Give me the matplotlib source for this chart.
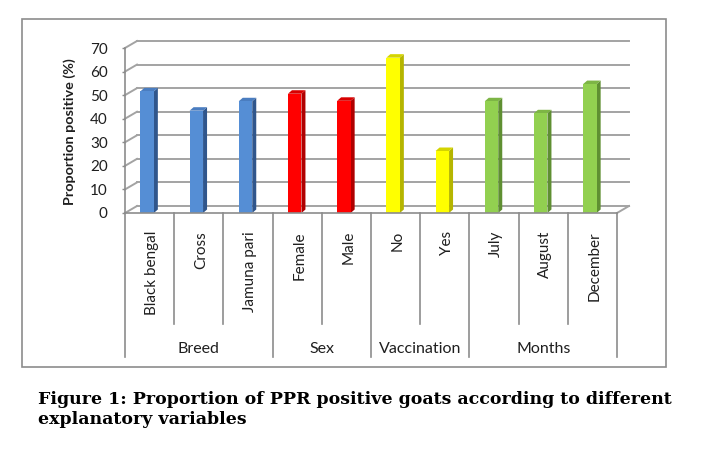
import numpy as np
import matplotlib
matplotlib.use("Agg")
import matplotlib.pyplot as plt
from matplotlib.patches import Rectangle

# ---- data ----
categories = ["Black bengal", "Cross", "Jamuna pari", "Female", "Male",
              "No", "Yes", "July", "August", "December"]
values = [51.6, 43.4, 47.4, 50.6, 47.6, 65.9, 26.3, 47.4, 42.3, 54.7]
groups = ["Breed", "Sex", "Vaccination", "Months"]
group_sizes = [3, 2, 2, 3]
yticks = [0, 10, 20, 30, 40, 50, 60, 70]

# front / side / top shades per group
front_col = {"Breed": "#558ED5", "Sex": "#FF0000", "Vaccination": "#FFFF00", "Months": "#92D050"}
side_col = {"Breed": "#30568C", "Sex": "#B00000", "Vaccination": "#B5B500", "Months": "#5F8F32"}
top_col = {"Breed": "#4A7DC0", "Sex": "#D80000", "Vaccination": "#D4D400", "Months": "#7DB545"}

plt.rcParams["font.family"] = ["Lato", "DejaVu Sans"]

W, H = 709, 449
fig = plt.figure(figsize=(W / 100, H / 100), dpi=100)

# frame around the chart
fig.patches.append(Rectangle((22 / W, 1 - 367 / H), 644 / W, 348 / H,
                             transform=fig.transFigure, fill=False,
                             edgecolor="#8C8C8C", linewidth=1.2))

# axes placed so that the front floor runs x=125..617 px, y=213 (0) .. 48 (70)
x0, x1, y0, y1 = 125, 617, 213, 48
ax = fig.add_axes([x0 / W, 1 - y0 / H, (x1 - x0) / W, (y0 - y1) / H])
n = len(categories)
ax.set_xlim(-0.5, n - 0.5)
ax.set_ylim(0, 70)
ax.patch.set_alpha(0)

px_x = (x1 - x0) / n          # pixels per category
px_y = (y0 - y1) / 70.0        # pixels per value unit

grid_c = "#A3A3A3"
# depth of the back wall
wdx, wdy = 12 / px_x, 7 / px_y
for t in yticks:
    ax.plot([-0.5 + wdx, n - 0.5 + wdx], [t + wdy, t + wdy], color=grid_c,
            lw=1.4, clip_on=False, zorder=1)
    ax.plot([-0.5, -0.5 + wdx], [t, t + wdy], color=grid_c, lw=1.4,
            clip_on=False, zorder=1)
ax.plot([n - 0.5, n - 0.5 + wdx], [0, wdy], color=grid_c, lw=1.4,
        clip_on=False, zorder=1)

# bars with a little depth
bw = 13.5 / px_x
bshift = -2.5 / px_x
bdx, bdy = 4 / px_x, 3.5 / px_y
bar_groups = [g for g, s in zip(groups, group_sizes) for _ in range(s)]
xs = np.arange(n) + bshift
for xi, v, g in zip(xs, values, bar_groups):
    l, r = xi - bw / 2, xi + bw / 2
    ax.fill([r, r + bdx, r + bdx, r], [0, bdy, v + bdy, v],
            color=side_col[g], lw=0, zorder=3)
    ax.fill([l, r, r + bdx, l + bdx], [v, v, v + bdy, v + bdy],
            color=top_col[g], lw=0, zorder=3)
ax.bar(xs, values, width=bw, color=[front_col[g] for g in bar_groups],
       linewidth=0, zorder=4)

# spines / ticks
for s in ["top", "right"]:
    ax.spines[s].set_visible(False)
ax.spines["left"].set_color("#8C8C8C")
ax.spines["bottom"].set_color("#8C8C8C")
ax.spines["left"].set_linewidth(1.2)
ax.spines["bottom"].set_linewidth(1.2)
ax.spines["bottom"].set_zorder(5)
ax.set_yticks(yticks)
ax.tick_params(axis="y", length=2.5, width=1, color="#8C8C8C", pad=10,
               labelsize=11, labelcolor="#1F1F1F")
ax.set_xticks([])

fig.text(70 / W, 1 - 132 / H, "Proportion positive (%)", rotation=90,
         ha="center", va="center", fontsize=10.4, fontweight="bold",
         color="#1F1F1F")

# category labels and dividers beneath the floor
xt = ax.get_xaxis_transform()
def ay(p):
    return (y0 - p) / (y0 - y1)

for i, c in enumerate(categories):
    ax.text(i + 0.04, ay(231), c, rotation=90, ha="center", va="top",
            fontsize=11, color="#1F1F1F", transform=xt)

bounds = np.cumsum([0] + group_sizes) - 0.5
for b in np.arange(n + 1) - 0.5:
    if b in bounds:
        ax.plot([b, b], [0, ay(357)], color="#8C8C8C", lw=1.2,
                transform=xt, clip_on=False)
    else:
        ax.plot([b, b], [0, ay(323.5)], color="#8C8C8C", lw=1.2,
                transform=xt, clip_on=False)
for g, a, b in zip(groups, bounds[:-1], bounds[1:]):
    ax.text((a + b) / 2, ay(349), g, ha="center", va="center",
            fontsize=11.5, color="#1F1F1F", transform=xt)

# caption
cap_font = dict(ha="left", va="baseline", fontsize=12.5, fontweight="bold",
                family=["DejaVu Serif"], color="black")
fig.text(38 / W, 1 - 404 / H,
         "Figure 1: Proportion of PPR positive goats according to different",
         **cap_font)
fig.text(38 / W, 1 - 424 / H, "explanatory variables", **cap_font)

fig.savefig("out.png", dpi=100)
